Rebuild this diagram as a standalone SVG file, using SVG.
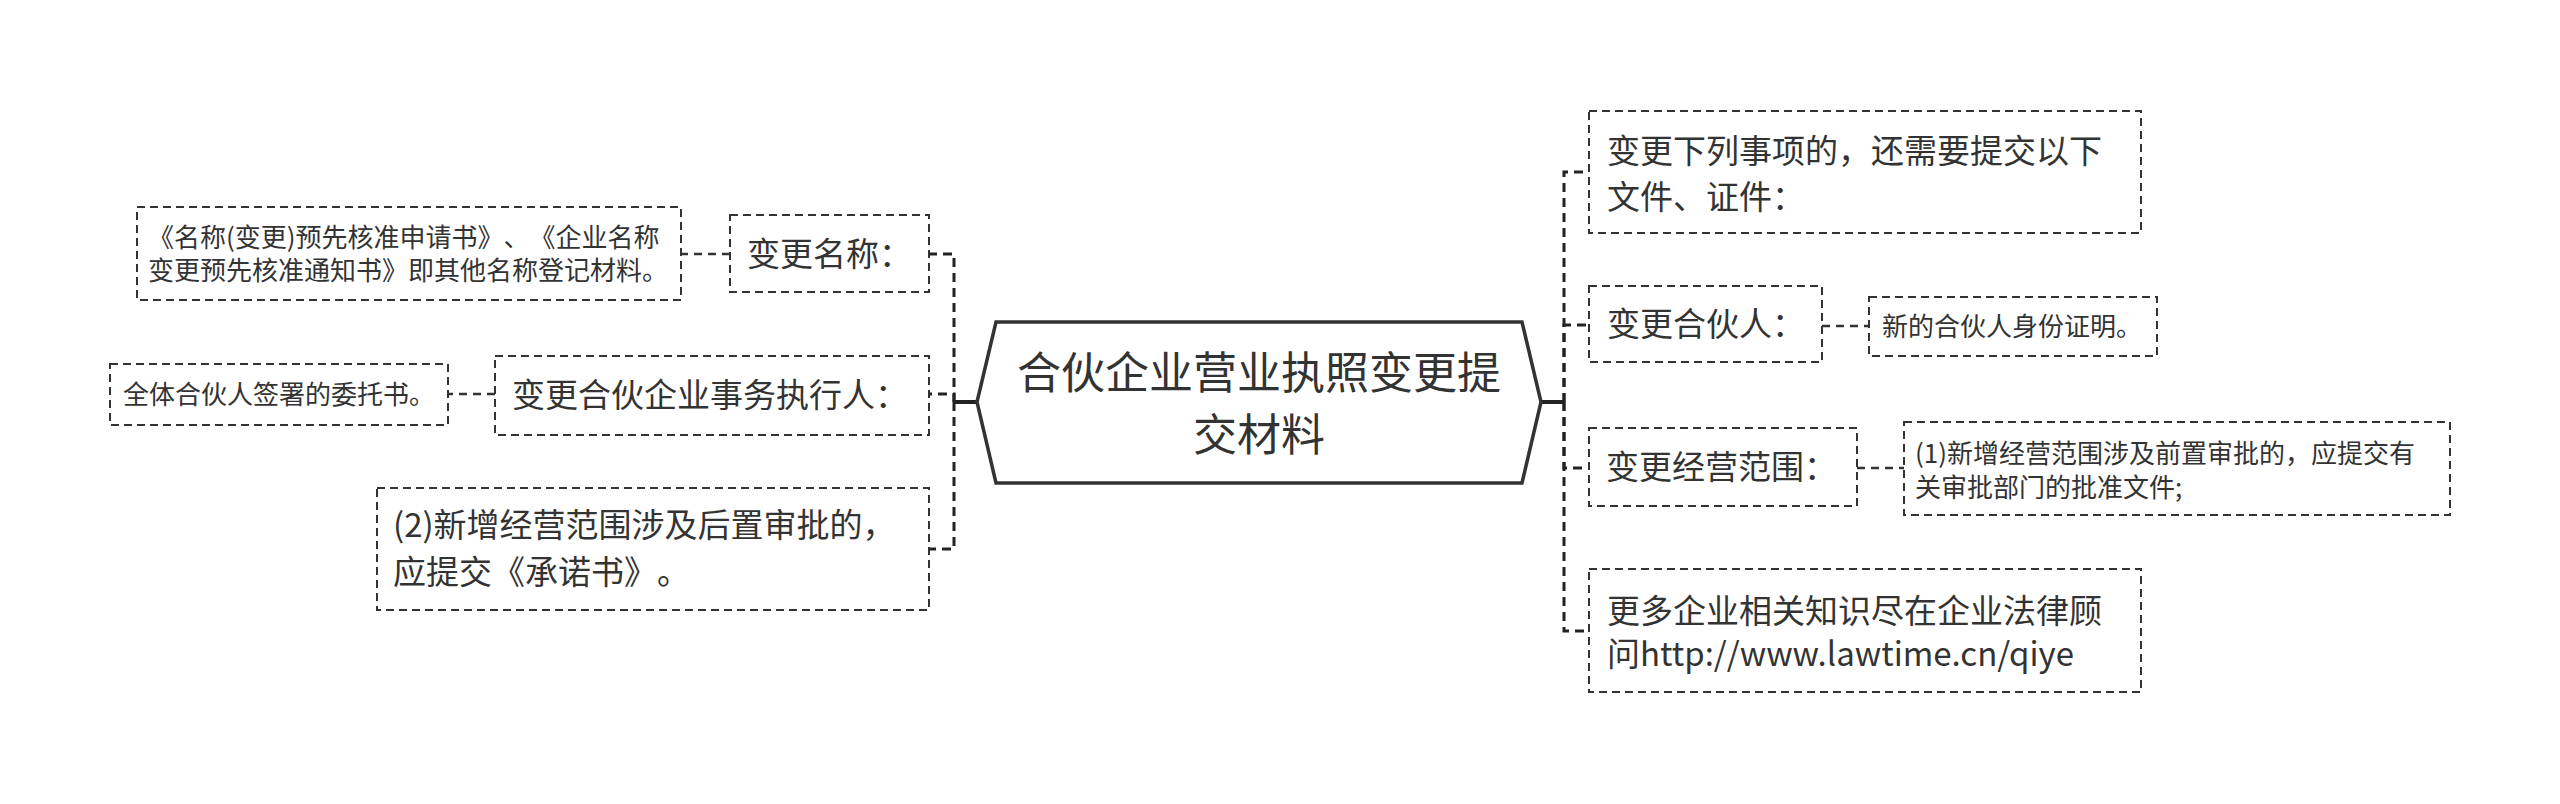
<svg xmlns="http://www.w3.org/2000/svg" width="2560" height="804" viewBox="0 0 2560 804">
<style>
  .box{fill:#fff;stroke:#333;stroke-width:2;stroke-dasharray:8 5;}
  .root{fill:#fff;stroke:#333;stroke-width:3.5;}
  .t{font-family:"Noto Sans CJK SC","Noto Sans",sans-serif;fill:#333;text-spacing-trim:space-all;}
  .t44{font-size:44px;}
  .t33{font-size:33px;}
  .t26{font-size:26px;}
  .solid{fill:none;stroke:#222;stroke-width:4;}
  .dash{fill:none;stroke:#222;stroke-width:3;stroke-dasharray:9 6;}
  .ldash{fill:none;stroke:#333;stroke-width:2.5;stroke-dasharray:8 6;}
</style>
<rect width="2560" height="804" fill="#fff"/>
<g id="connectors">
  <path class="solid" d="M977 402 H954"/>
  <path class="solid" d="M1541 402 H1564"/>
  <path class="dash" d="M954 402 V254 H930"/>
  <path class="dash" d="M954 402 V394 H930"/>
  <path class="dash" d="M954 402 V549 H930"/>
  <path class="dash" d="M1564 402 V172 H1589"/>
  <path class="dash" d="M1564 402 V325 H1589"/>
  <path class="dash" d="M1564 402 V468 H1589"/>
  <path class="dash" d="M1564 402 V631 H1589"/>
  <path class="ldash" d="M730 254 H681"/>
  <path class="ldash" d="M495 394 H448"/>
  <path class="ldash" d="M1822 326 H1869"/>
  <path class="ldash" d="M1857 468 H1904"/>
</g>
<g id="root">
  <polygon class="root" points="977,402 996,322 1522,322 1541,402 1522,483 996,483"/>
  <text class="t t44" x="1259" y="389" text-anchor="middle">合伙企业营业执照变更提</text>
  <text class="t t44" x="1259" y="451" text-anchor="middle">交材料</text>
</g>
<g id="n-name">
  <rect class="box" x="730" y="215" width="199" height="77"/>
  <text class="t t33" x="747" y="266">变更名称：</text>
</g>
<g id="n-name-leaf">
  <rect class="box" x="137" y="207" width="544" height="93"/>
  <text class="t t26" x="148" y="247">《名称(变更)预先核准申请书》、《企业名称</text>
  <text class="t t26" x="148" y="280">变更预先核准通知书》即其他名称登记材料。</text>
</g>
<g id="n-exec">
  <rect class="box" x="495" y="356" width="434" height="79"/>
  <text class="t t33" x="512" y="407">变更合伙企业事务执行人：</text>
</g>
<g id="n-exec-leaf">
  <rect class="box" x="110" y="364" width="338" height="61"/>
  <text class="t t26" x="123" y="404">全体合伙人签署的委托书。</text>
</g>
<g id="n-post">
  <rect class="box" x="377" y="488" width="552" height="122"/>
  <text class="t t33" x="393" y="537">(2)新增经营范围涉及后置审批的，</text>
  <text class="t t33" x="393" y="584">应提交《承诺书》。</text>
</g>
<g id="n-list">
  <rect class="box" x="1589" y="111" width="552" height="122"/>
  <text class="t t33" x="1607" y="163">变更下列事项的，还需要提交以下</text>
  <text class="t t33" x="1607" y="209">文件、证件：</text>
</g>
<g id="n-partner">
  <rect class="box" x="1589" y="286" width="233" height="76"/>
  <text class="t t33" x="1607" y="336">变更合伙人：</text>
</g>
<g id="n-partner-leaf">
  <rect class="box" x="1869" y="297" width="288" height="59"/>
  <text class="t t26" x="1882" y="336">新的合伙人身份证明。</text>
</g>
<g id="n-scope">
  <rect class="box" x="1589" y="428" width="268" height="78"/>
  <text class="t t33" x="1606" y="479">变更经营范围：</text>
</g>
<g id="n-scope-leaf">
  <rect class="box" x="1904" y="422" width="546" height="93"/>
  <text class="t t26" x="1915" y="463">(1)新增经营范围涉及前置审批的，应提交有</text>
  <text class="t t26" x="1915" y="497">关审批部门的批准文件;</text>
</g>
<g id="n-more">
  <rect class="box" x="1589" y="569" width="552" height="123"/>
  <text class="t t33" x="1607" y="623">更多企业相关知识尽在企业法律顾</text>
  <text class="t t33" x="1607" y="666">问http://www.lawtime.cn/qiye</text>
</g>
</svg>
